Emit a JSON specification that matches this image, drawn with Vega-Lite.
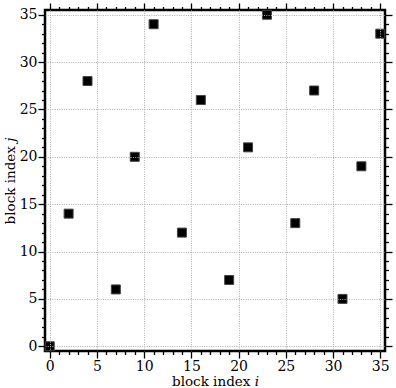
{
  "$schema": "https://vega.github.io/schema/vega-lite/v6.json",
  "autosize": "none",
  "width": 340,
  "height": 341,
  "padding": {"left": 45, "top": 10, "right": 11, "bottom": 37},
  "config": {
    "font": "DejaVu Serif",
    "view": {"stroke": "black", "strokeWidth": 2.5},
    "axis": {
      "labelFont": "DejaVu Serif",
      "titleFont": "DejaVu Serif",
      "labelFontSize": 14,
      "titleFontSize": 13.5,
      "titleFontWeight": "normal",
      "labelColor": "black",
      "titleColor": "black",
      "domain": false,
      "labelOverlap": false,
      "labelFlush": false,
      "labelBound": false
    }
  },
  "data": {
    "values": [
      {"i": 0, "j": 0}, {"i": 2, "j": 14}, {"i": 4, "j": 28}, {"i": 7, "j": 6},
      {"i": 9, "j": 20}, {"i": 11, "j": 34}, {"i": 14, "j": 12}, {"i": 16, "j": 26},
      {"i": 19, "j": 7}, {"i": 21, "j": 21}, {"i": 23, "j": 35}, {"i": 26, "j": 13},
      {"i": 28, "j": 27}, {"i": 31, "j": 5}, {"i": 33, "j": 19}, {"i": 35, "j": 33}
    ]
  },
  "layer": [
    {
      "mark": {"type": "square", "size": 81, "filled": true, "color": "black", "stroke": "#444", "strokeWidth": 1, "opacity": 1},
      "encoding": {
        "x": {
          "field": "i", "type": "quantitative",
          "scale": {"domain": [-0.5, 35.5], "nice": false, "zero": false},
          "axis": {
            "orient": "bottom",
            "title": "block index 𝑖",
            "values": [0, 5, 10, 15, 20, 25, 30, 35],
            "ticks": true,
            "tickColor": "black",
            "tickWidth": 1.3,
            "tickSize": 7,
            "labelPadding": 1,
            "titlePadding": 1,
            "grid": true,
            "gridColor": "#b0b0b0",
            "gridDash": [1, 1.3],
            "gridWidth": 1,
            "zindex": 1
          }
        },
        "y": {
          "field": "j", "type": "quantitative",
          "scale": {"domain": [-0.5, 35.5], "nice": false, "zero": false},
          "axis": {
            "orient": "left",
            "title": "block index 𝑗",
            "values": [0, 5, 10, 15, 20, 25, 30, 35],
            "ticks": true,
            "tickColor": "black",
            "tickWidth": 1.3,
            "tickSize": 7,
            "labelPadding": 1,
            "titlePadding": 2,
            "grid": true,
            "gridColor": "#b0b0b0",
            "gridDash": [1, 1.3],
            "gridWidth": 1,
            "zindex": 1
          }
        }
      }
    },
    {
      "mark": {"type": "point", "opacity": 0},
      "encoding": {
        "x": {
          "field": "i", "type": "quantitative",
          "axis": {
            "orient": "bottom", "title": null, "labels": false, "grid": false, "ticks": true, "tickColor": "black", "tickWidth": 1.3,
            "values": [1,2,3,4,6,7,8,9,11,12,13,14,16,17,18,19,21,22,23,24,26,27,28,29,31,32,33,34],
            "tickSize": 3.5
          }
        },
        "y": {
          "field": "j", "type": "quantitative",
          "axis": {
            "orient": "left", "title": null, "labels": false, "grid": false, "ticks": true, "tickColor": "black", "tickWidth": 1.3,
            "values": [1,2,3,4,6,7,8,9,11,12,13,14,16,17,18,19,21,22,23,24,26,27,28,29,31,32,33,34],
            "tickSize": 3.5
          }
        }
      }
    },
    {
      "mark": {"type": "point", "opacity": 0},
      "encoding": {
        "x": {
          "field": "i", "type": "quantitative",
          "axis": {
            "orient": "top", "title": null, "labels": false, "grid": false, "ticks": true, "tickColor": "black", "tickWidth": 1.3,
            "values": [0, 5, 10, 15, 20, 25, 30, 35],
            "tickSize": 7
          }
        },
        "y": {
          "field": "j", "type": "quantitative",
          "axis": {
            "orient": "right", "title": null, "labels": false, "grid": false, "ticks": true, "tickColor": "black", "tickWidth": 1.3,
            "values": [0, 5, 10, 15, 20, 25, 30, 35],
            "tickSize": 7
          }
        }
      }
    },
    {
      "mark": {"type": "point", "opacity": 0},
      "encoding": {
        "x": {
          "field": "i", "type": "quantitative",
          "axis": {
            "orient": "top", "title": null, "labels": false, "grid": false, "ticks": true, "tickColor": "black", "tickWidth": 1.3,
            "values": [1,2,3,4,6,7,8,9,11,12,13,14,16,17,18,19,21,22,23,24,26,27,28,29,31,32,33,34],
            "tickSize": 3.5
          }
        },
        "y": {
          "field": "j", "type": "quantitative",
          "axis": {
            "orient": "right", "title": null, "labels": false, "grid": false, "ticks": true, "tickColor": "black", "tickWidth": 1.3,
            "values": [1,2,3,4,6,7,8,9,11,12,13,14,16,17,18,19,21,22,23,24,26,27,28,29,31,32,33,34],
            "tickSize": 3.5
          }
        }
      }
    }
  ],
  "resolve": {"axis": {"x": "independent", "y": "independent"}}
}
